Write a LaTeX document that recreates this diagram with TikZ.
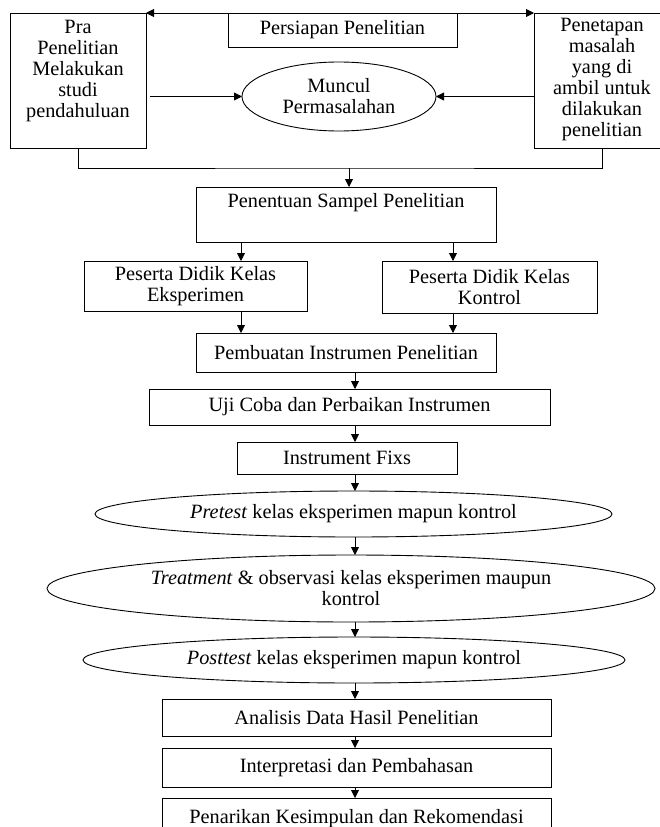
\documentclass[tikz,border=0pt]{standalone}
\usepackage{fontspec}
\setmainfont{Liberation Serif}
\usetikzlibrary{shapes.geometric,arrows.meta,calc}
\begin{document}
\begin{tikzpicture}[x=1pt,y=-1pt,
  every node/.style={font=\fontsize{20.3}{21}\selectfont},
  box/.style={draw, line width=0.9pt, inner sep=0pt, outer sep=0pt, align=center},
  ell/.style={draw, ellipse, line width=0.9pt, inner sep=0pt, outer sep=0pt, align=center},
  arr/.style={line width=0.9pt, -{Triangle[length=8pt,width=8pt]}},
  ln/.style={line width=0.9pt},
  txt/.style={align=center, inner sep=0pt}]
\useasboundingbox (0,0) rectangle (659,827);

% top section
\node[box, minimum width=136pt, minimum height=135pt] (pra) at (78,80.5) {};
\node[txt] (praT) at (78,71) {Pra\\Penelitian\\Melakukan\\studi\\pendahuluan};
\node[box, minimum width=229pt, minimum height=34pt] (pers) at (342.5,30) {Persiapan Penelitian};
\node[box, minimum width=136pt, minimum height=135pt] (pet) at (602,80.5) {};
\node[txt] (petT) at (602,80) {Penetapan\\masalah\\yang di\\ambil untuk\\dilakukan\\penelitian};
\node[ell, minimum width=194pt, minimum height=69pt] (mun) at (339,96.5) {Muncul\\Permasalahan};

\draw[arr] (pers.north west) -- (pra.north east);
\draw[arr] (pers.north east) -- (pet.north west);
\draw[arr, shorten <=4pt] (pra.east |- mun.west) -- (mun.west);
\draw[arr] (pet.west |- mun.east) -- (mun.east);

\coordinate (bj) at (349,168);
\draw[ln] (pra.south) |- (bj) -| (pet.south);

% middle
\node[box, minimum width=300pt, minimum height=55pt] (sam) at (346,214.5) {};
\node[txt] (samT) at (346,203) {Penentuan Sampel Penelitian};
\draw[arr] (bj) -- (bj |- sam.north);

\node[box, minimum width=223pt, minimum height=50pt] (eks) at (195.5,286) {Peserta Didik Kelas\\Eksperimen};
\node[box, minimum width=215pt, minimum height=52pt] (kon) at (489.5,287) {Peserta Didik Kelas\\Kontrol};
\node[box, minimum width=300pt, minimum height=39pt] (ins) at (346,352.5) {Pembuatan Instrumen Penelitian};
\node[box, minimum width=401pt, minimum height=36pt] (uji) at (349.5,407) {Uji Coba dan Perbaikan Instrumen};
\node[box, minimum width=220pt, minimum height=32pt] (fix) at (347,458) {Instrument Fixs};
\node[ell, minimum width=517pt, minimum height=46pt] (pre) at (353.5,514) {\textit{Pretest} kelas eksperimen mapun kontrol};
\node[ell, minimum width=608pt, minimum height=67pt] (tre) at (351,588.5) {\textit{Treatment} \& observasi kelas eksperimen maupun\\kontrol};
\node[ell, minimum width=542pt, minimum height=46pt] (pos) at (354,660) {\textit{Posttest} kelas eksperimen mapun kontrol};
\node[box, minimum width=389pt, minimum height=37pt] (ana) at (356.5,717.5) {Analisis Data Hasil Penelitian};
\node[box, minimum width=389pt, minimum height=39pt] (int) at (356.5,767.5) {Interpretasi dan Pembahasan};
\node[box, minimum width=389pt, minimum height=42pt] (tar) at (356.5,819) {Penarikan Kesimpulan dan Rekomendasi};

\coordinate (cL) at (241,0);
\coordinate (cR) at (453,0);
\coordinate (cM) at (355,0);
\draw[arr] (sam.south -| cL) -- (eks.north -| cL);
\draw[arr] (sam.south -| cR) -- (kon.north -| cR);
\draw[arr] (eks.south -| cL) -- (ins.north -| cL);
\draw[arr] (kon.south -| cR) -- (ins.north -| cR);
\draw[arr] (ins.south -| cM) -- (uji.north -| cM);
\draw[arr] (uji.south -| cM) -- (fix.north -| cM);
\draw[arr] (fix.south -| cM) -- (pre.north -| cM);
\draw[arr] (pre.south -| cM) -- (tre.north -| cM);
\draw[arr] (tre.south -| cM) -- (pos.north -| cM);
\draw[arr] (pos.south -| cM) -- (ana.north -| cM);
\draw[arr] (ana.south -| cM) -- (int.north -| cM);
\draw[arr] (int.south -| cM) -- (tar.north -| cM);
\end{tikzpicture}
\end{document}
